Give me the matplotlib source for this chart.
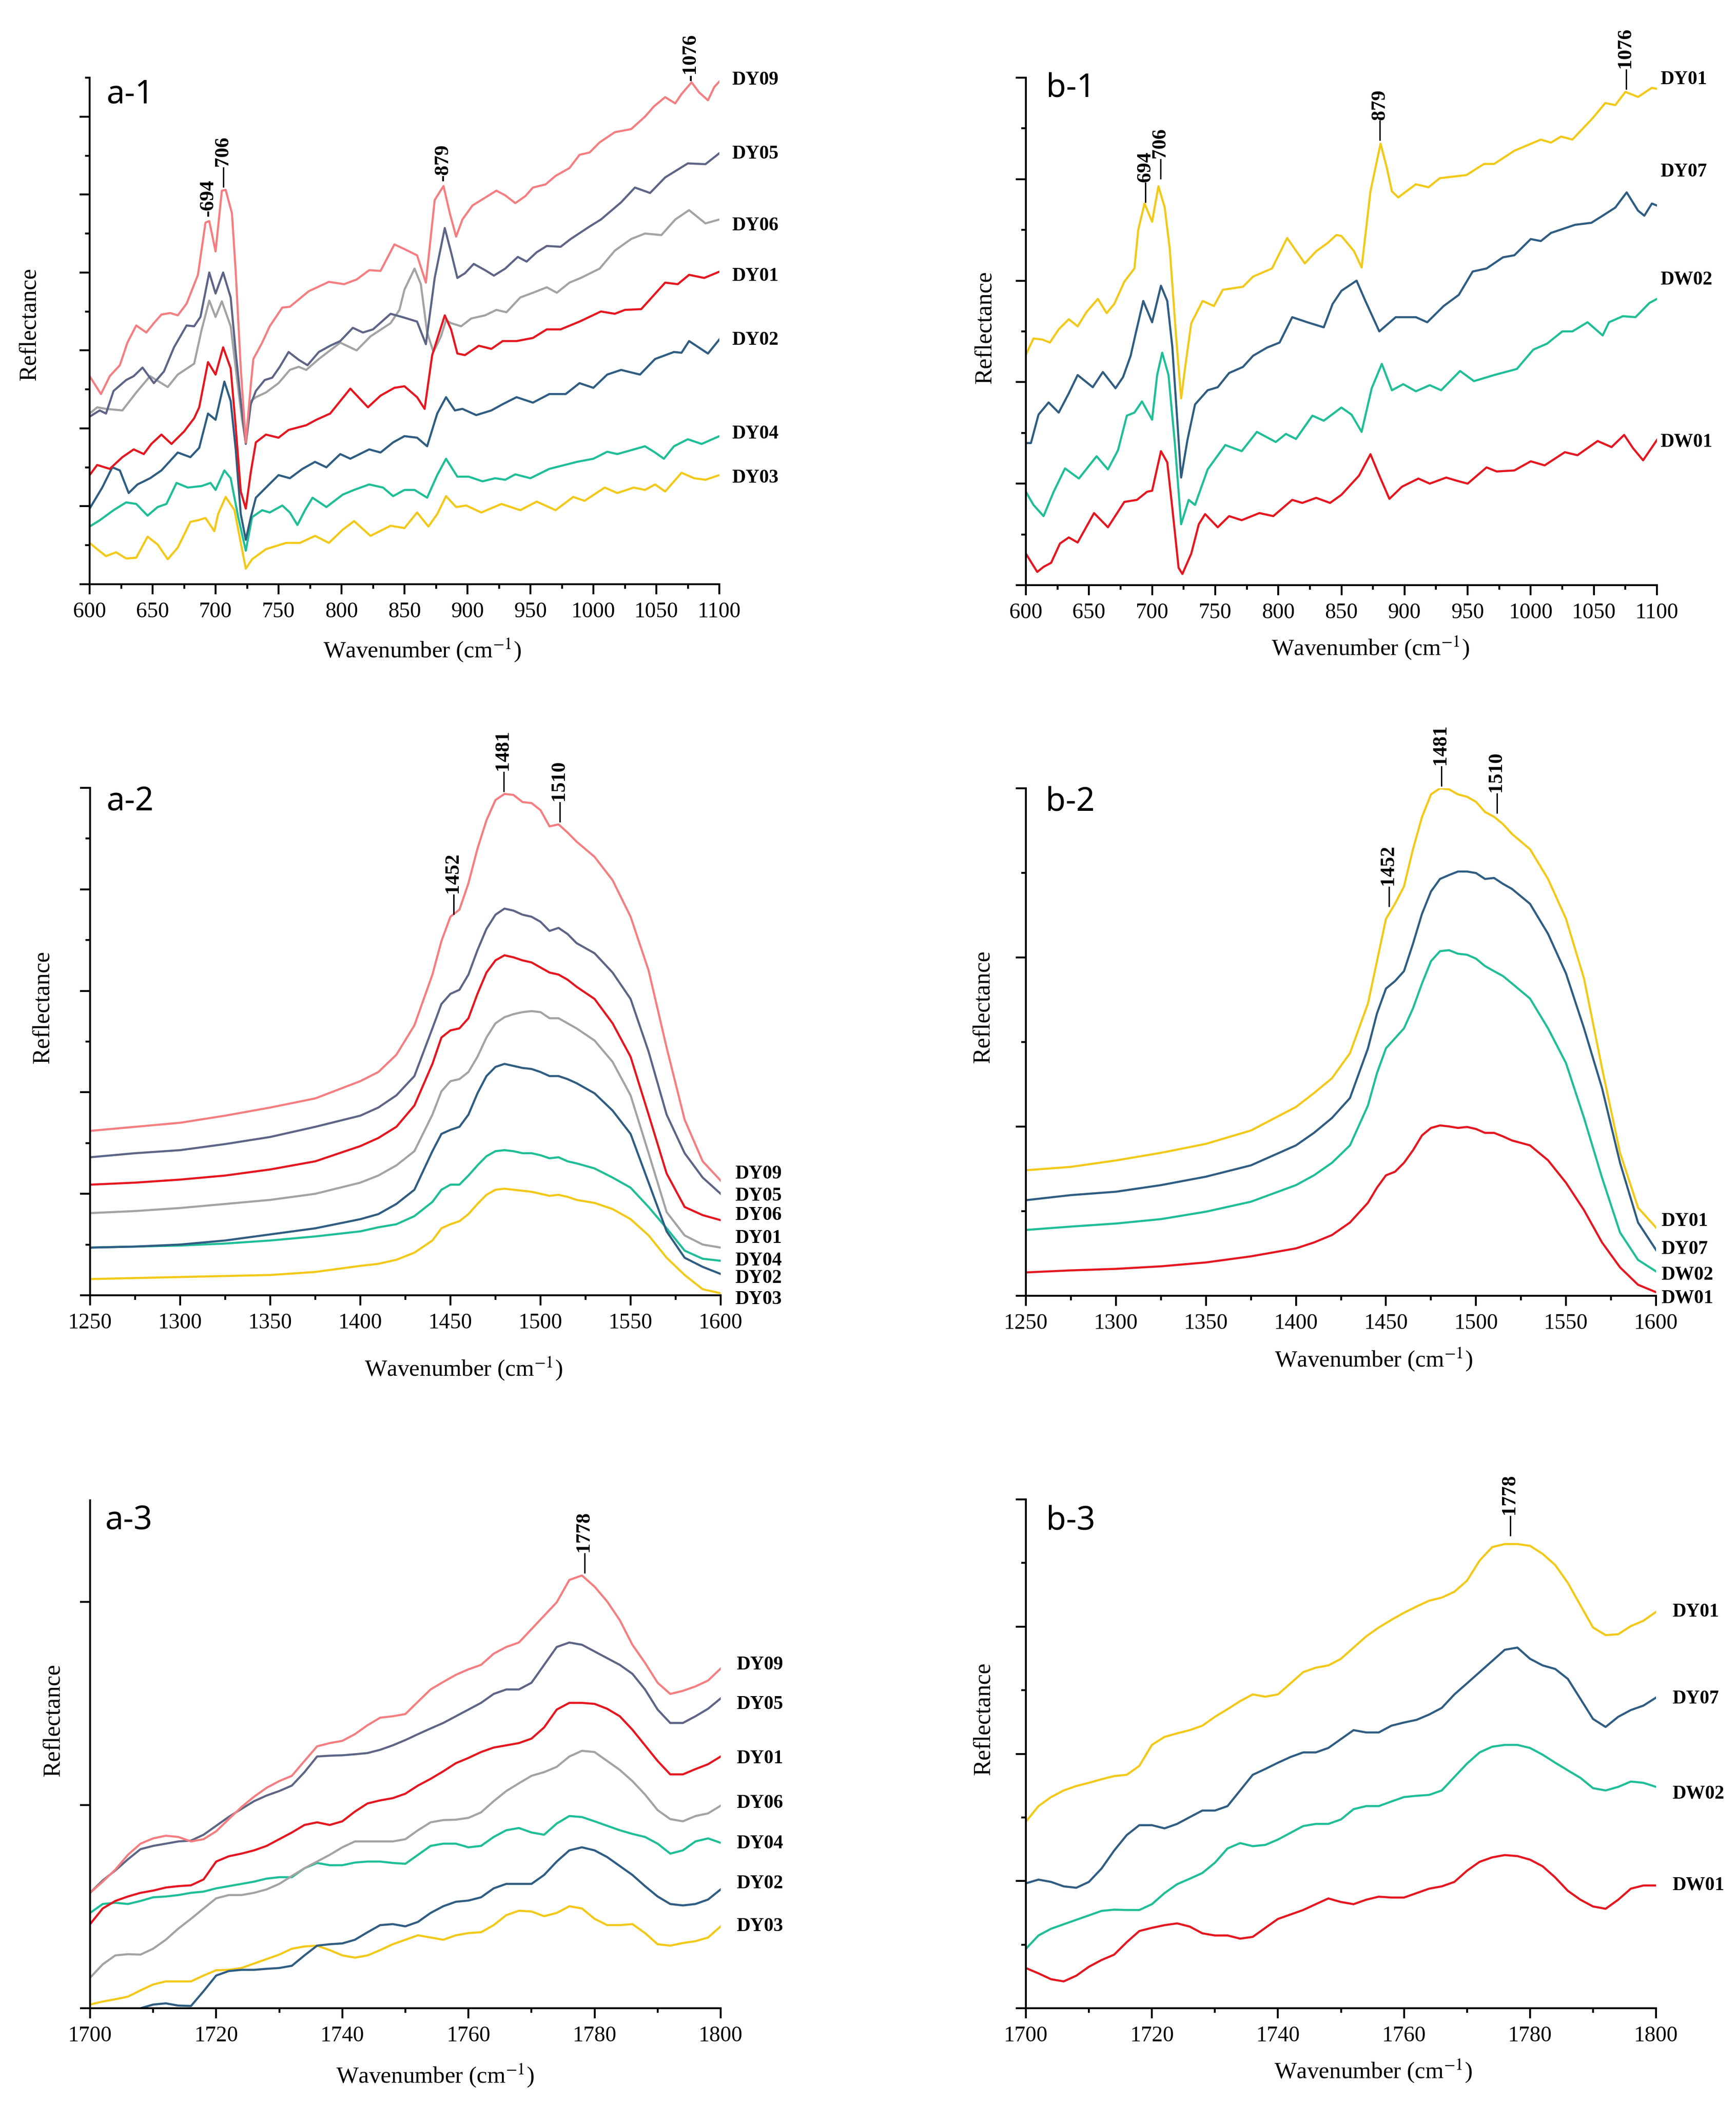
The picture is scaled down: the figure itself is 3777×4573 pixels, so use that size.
import numpy as np
import matplotlib.pyplot as plt
from matplotlib.ticker import MultipleLocator, NullLocator

plt.rcParams['font.family'] = ['Liberation Serif', 'DejaVu Serif']
plt.rcParams['mathtext.fontset'] = 'stix'

# ---------------- panel a-1 (600-1100 cm-1) ----------------
a1_dy09_x = [600, 609, 616, 624, 630, 637, 645, 651, 657, 664, 670, 677, 686, 692, 695, 700, 705, 708, 713, 716,
             720, 724, 728, 730, 737, 743, 753, 759, 774, 790, 802, 812, 822, 831, 842, 850, 860, 867, 874, 881,
             886, 891, 896, 904, 914, 923, 930, 938, 946, 952, 962, 970, 981, 989, 997, 1005, 1017, 1030, 1041, 1048,
             1057, 1065, 1070, 1078, 1084, 1091, 1096, 1100]
a1_dy09_y = [2.67, 2.44, 2.67, 2.81, 3.10, 3.32, 3.23, 3.35, 3.46, 3.48, 3.45, 3.60, 3.97, 4.64, 4.66, 4.27, 5.05, 5.06, 4.76, 4.01,
             2.77, 1.82, 2.56, 2.89, 3.10, 3.31, 3.55, 3.56, 3.76, 3.88, 3.85, 3.91, 4.03, 4.02, 4.36, 4.30, 4.22, 3.87, 4.93, 5.11,
             4.76, 4.46, 4.68, 4.86, 4.96, 5.05, 4.99, 4.89, 4.98, 5.09, 5.13, 5.24, 5.34, 5.51, 5.54, 5.67, 5.80, 5.84, 6.00, 6.13,
             6.25, 6.17, 6.29, 6.44, 6.31, 6.21, 6.38, 6.45]

a1_dy05_x = [600, 608, 613, 619, 629, 635, 642, 651, 659, 667, 677, 683, 688, 695, 700, 706, 712, 716, 720, 724,
             728, 732, 739, 745, 751, 758, 766, 773, 782, 791, 799, 809, 817, 825, 839, 850, 860, 867, 874, 882,
             887, 892, 898, 905, 914, 921, 930, 940, 947, 955, 963, 974, 982, 997, 1006, 1022, 1033, 1045, 1057, 1075,
             1089, 1100]
a1_dy05_y = [2.15, 2.23, 2.19, 2.48, 2.62, 2.67, 2.78, 2.58, 2.73, 3.04, 3.32, 3.31, 3.43, 4.00, 3.73, 4.00, 3.68, 2.98, 2.35, 1.80,
             2.31, 2.48, 2.62, 2.65, 2.79, 2.98, 2.88, 2.81, 2.98, 3.06, 3.12, 3.29, 3.23, 3.27, 3.47, 3.42, 3.37, 3.08, 3.93, 4.57,
             4.26, 3.93, 3.99, 4.11, 4.03, 3.96, 4.05, 4.20, 4.14, 4.26, 4.34, 4.33, 4.43, 4.59, 4.68, 4.90, 5.09, 5.02, 5.22, 5.40,
             5.39, 5.53]

a1_dy06_x = [600, 606, 613, 626, 637, 648, 653, 662, 670, 683, 689, 695, 700, 705, 712, 716, 721, 724, 728, 732,
             740, 750, 759, 766, 772, 782, 799, 812, 823, 839, 846, 850, 858, 863, 868, 873, 879, 883, 887, 895,
             903, 914, 923, 931, 942, 952, 963, 971, 981, 990, 1005, 1017, 1030, 1041, 1054, 1065, 1076, 1089, 1100]
a1_dy06_y = [2.19, 2.27, 2.25, 2.23, 2.46, 2.67, 2.62, 2.53, 2.69, 2.83, 3.27, 3.64, 3.43, 3.63, 3.31, 2.77, 2.11, 1.82, 2.35, 2.40,
             2.46, 2.58, 2.75, 2.79, 2.75, 2.89, 3.10, 3.00, 3.18, 3.35, 3.52, 3.78, 4.05, 3.85, 3.23, 2.98, 3.18, 3.39, 3.35, 3.31,
             3.41, 3.45, 3.52, 3.49, 3.68, 3.74, 3.81, 3.74, 3.87, 3.93, 4.05, 4.28, 4.43, 4.50, 4.48, 4.68, 4.80, 4.63, 4.68]

a1_dy01_x = [600, 606, 616, 626, 635, 643, 649, 657, 665, 675, 683, 687, 694, 700, 706, 712, 716, 720, 724, 728,
             732, 740, 750, 758, 772, 780, 791, 807, 821, 831, 842, 850, 860, 866, 872, 882, 887, 892, 898, 909,
             919, 928, 939, 952, 963, 974, 989, 1006, 1017, 1025, 1038, 1057, 1067, 1076, 1088, 1100]
a1_dy01_y = [1.40, 1.53, 1.48, 1.63, 1.73, 1.67, 1.80, 1.92, 1.80, 1.96, 2.13, 2.27, 2.85, 2.69, 3.04, 2.77, 2.02, 1.19, 0.97, 1.44,
             1.82, 1.92, 1.88, 1.98, 2.04, 2.11, 2.19, 2.51, 2.27, 2.42, 2.52, 2.54, 2.40, 2.25, 2.94, 3.45, 3.27, 2.96, 2.94, 3.06,
             3.02, 3.12, 3.12, 3.16, 3.27, 3.27, 3.37, 3.50, 3.47, 3.52, 3.53, 3.87, 3.85, 3.97, 3.93, 4.01]

a1_dy02_x = [600, 610, 618, 624, 631, 638, 648, 657, 670, 680, 687, 694, 700, 707, 712, 716, 720, 724, 728, 732,
             740, 750, 759, 769, 779, 788, 799, 807, 822, 831, 841, 850, 860, 868, 876, 883, 890, 896, 907, 919,
             928, 939, 952, 965, 978, 989, 1000, 1011, 1022, 1037, 1049, 1064, 1070, 1076, 1091, 1100]
a1_dy02_y = [0.97, 1.24, 1.50, 1.46, 1.17, 1.28, 1.36, 1.46, 1.69, 1.63, 1.75, 2.19, 2.11, 2.60, 2.35, 1.73, 0.90, 0.57, 0.86, 1.11,
             1.24, 1.40, 1.36, 1.48, 1.57, 1.50, 1.67, 1.61, 1.73, 1.69, 1.82, 1.90, 1.88, 1.77, 2.19, 2.40, 2.23, 2.25, 2.17, 2.23,
             2.31, 2.40, 2.33, 2.44, 2.44, 2.58, 2.52, 2.69, 2.75, 2.69, 2.89, 2.98, 2.97, 3.12, 2.96, 3.14]

a1_dy04_x = [600, 608, 619, 629, 637, 646, 654, 661, 669, 678, 689, 696, 700, 707, 712, 718, 724, 729, 737, 743,
             753, 759, 765, 771, 777, 788, 801, 810, 822, 833, 841, 850, 858, 868, 876, 883, 892, 901, 912, 922,
             930, 938, 950, 965, 987, 1000, 1011, 1019, 1041, 1049, 1056, 1064, 1075, 1086, 1100]
a1_dy04_y = [0.74, 0.82, 0.95, 1.05, 1.03, 0.88, 0.99, 1.03, 1.30, 1.24, 1.26, 1.30, 1.21, 1.46, 1.36, 0.86, 0.43, 0.86, 0.95, 0.92,
             1.01, 0.92, 0.76, 0.95, 1.11, 0.99, 1.15, 1.21, 1.28, 1.24, 1.13, 1.21, 1.21, 1.11, 1.40, 1.61, 1.38, 1.38, 1.32, 1.36,
             1.34, 1.41, 1.36, 1.48, 1.57, 1.61, 1.70, 1.67, 1.77, 1.69, 1.61, 1.77, 1.86, 1.80, 1.90]

a1_dy03_x = [600, 606, 613, 621, 629, 637, 646, 654, 662, 670, 680, 686, 692, 699, 702, 708, 715, 720, 724, 729,
             740, 756, 767, 779, 790, 801, 810, 823, 839, 850, 860, 869, 876, 883, 891, 899, 911, 927, 942, 955,
             970, 984, 993, 1009, 1019, 1032, 1041, 1049, 1057, 1070, 1080, 1089, 1100]
a1_dy03_y = [0.53, 0.45, 0.36, 0.41, 0.33, 0.34, 0.61, 0.51, 0.32, 0.47, 0.80, 0.82, 0.85, 0.68, 0.90, 1.12, 0.95, 0.53, 0.20, 0.32,
             0.45, 0.53, 0.53, 0.62, 0.53, 0.70, 0.81, 0.62, 0.75, 0.72, 0.92, 0.74, 0.90, 1.13, 0.99, 1.01, 0.92, 1.03, 0.95, 1.06,
             0.95, 1.12, 1.07, 1.24, 1.17, 1.24, 1.21, 1.28, 1.19, 1.43, 1.36, 1.34, 1.40]

# ---------------- panel b-1 (600-1100 cm-1) ----------------
b1_dy01_x = [600, 606, 613, 619, 626, 634, 641, 648, 657, 664, 670, 678, 686, 689, 694, 700, 705, 710, 714, 719,
             723, 726, 731, 740, 749, 756, 772, 780, 795, 807, 821, 830, 839, 846, 850, 860, 866, 873, 881, 886,
             890, 895, 909, 919, 928, 949, 963, 971, 987, 1008, 1016, 1024, 1033, 1049, 1059, 1067, 1075, 1085, 1096, 1100]
b1_dy01_y = [2.27, 2.43, 2.42, 2.39, 2.52, 2.62, 2.55, 2.69, 2.82, 2.68, 2.77, 2.99, 3.12, 3.50, 3.76, 3.58, 3.93, 3.72, 3.31, 2.45,
             1.84, 2.13, 2.58, 2.80, 2.75, 2.91, 2.94, 3.04, 3.12, 3.42, 3.17, 3.29, 3.37, 3.45, 3.44, 3.29, 3.13, 3.88, 4.35, 4.11,
             3.88, 3.82, 3.95, 3.92, 4.01, 4.04, 4.15, 4.15, 4.28, 4.39, 4.36, 4.42, 4.39, 4.60, 4.75, 4.73, 4.86, 4.81, 4.90, 4.89]

b1_dy07_x = [600, 604, 610, 618, 626, 634, 641, 653, 661, 671, 677, 683, 687, 693, 700, 707, 712, 716, 723, 728,
             734, 744, 752, 761, 772, 780, 791, 801, 811, 823, 836, 843, 850, 862, 869, 880, 893, 909, 918, 931,
             943, 954, 965, 978, 987, 1000, 1008, 1016, 1035, 1048, 1057, 1067, 1076, 1085, 1090, 1096, 1100]
b1_dy07_y = [1.40, 1.40, 1.68, 1.80, 1.70, 1.89, 2.07, 1.95, 2.10, 1.94, 2.05, 2.26, 2.48, 2.80, 2.59, 2.95, 2.80, 2.35, 1.06, 1.43,
             1.78, 1.92, 1.95, 2.09, 2.15, 2.26, 2.34, 2.39, 2.64, 2.59, 2.54, 2.77, 2.90, 3.00, 2.80, 2.50, 2.64, 2.64, 2.59, 2.75,
             2.86, 3.09, 3.12, 3.23, 3.25, 3.41, 3.39, 3.47, 3.55, 3.57, 3.64, 3.72, 3.87, 3.69, 3.64, 3.76, 3.74]

b1_dw02_x = [600, 606, 614, 622, 631, 642, 656, 665, 673, 680, 686, 692, 700, 704, 708, 713, 718, 723, 729, 734,
             744, 758, 771, 783, 798, 806, 814, 827, 836, 850, 858, 866, 874, 882, 890, 899, 909, 920, 929, 944,
             955, 971, 989, 1002, 1013, 1025, 1033, 1045, 1057, 1062, 1073, 1083, 1094, 1100]
b1_dw02_y = [0.92, 0.79, 0.68, 0.92, 1.15, 1.05, 1.27, 1.14, 1.33, 1.67, 1.70, 1.81, 1.63, 2.07, 2.29, 2.07, 1.40, 0.60, 0.84, 0.79,
             1.14, 1.38, 1.32, 1.51, 1.41, 1.49, 1.44, 1.67, 1.62, 1.75, 1.68, 1.51, 1.94, 2.18, 1.92, 1.98, 1.91, 1.97, 1.92, 2.11,
             2.01, 2.07, 2.13, 2.32, 2.38, 2.50, 2.50, 2.59, 2.46, 2.59, 2.65, 2.64, 2.78, 2.82]

b1_dw01_x = [600, 603, 609, 614, 620, 627, 634, 641, 654, 665, 678, 688, 696, 700, 707, 712, 716, 721, 724, 731,
             737, 742, 752, 761, 771, 785, 796, 811, 819, 830, 841, 850, 864, 873, 880, 888, 898, 911, 920, 933,
             941, 950, 965, 973, 987, 1000, 1011, 1027, 1037, 1053, 1064, 1074, 1081, 1089, 1100]
b1_dw01_y = [0.31, 0.25, 0.13, 0.18, 0.22, 0.41, 0.47, 0.42, 0.71, 0.57, 0.82, 0.84, 0.92, 0.93, 1.32, 1.21, 0.76, 0.17, 0.11, 0.31,
             0.60, 0.70, 0.57, 0.68, 0.64, 0.71, 0.68, 0.84, 0.81, 0.86, 0.81, 0.89, 1.08, 1.29, 1.08, 0.85, 0.97, 1.05, 1.00, 1.06,
             1.03, 1.00, 1.16, 1.12, 1.13, 1.22, 1.18, 1.31, 1.28, 1.42, 1.36, 1.48, 1.35, 1.23, 1.43]

# ---------------- panels a-2 / b-2 (1250-1600 cm-1) ----------------
wn2 = [1250, 1275, 1300, 1325, 1350, 1375, 1400, 1410, 1420, 1430, 1440, 1445, 1450, 1455, 1460, 1465, 1470, 1475,
       1480, 1485, 1490, 1495, 1500, 1505, 1510, 1515, 1520, 1530, 1540, 1550, 1560, 1570, 1580, 1590, 1600]

a2_dy09 = [1.62, 1.66, 1.70, 1.77, 1.85, 1.94, 2.11, 2.20, 2.37, 2.66, 3.16, 3.49, 3.73, 3.80, 4.06, 4.40, 4.68, 4.88,
           4.94, 4.93, 4.86, 4.85, 4.78, 4.62, 4.64, 4.56, 4.47, 4.32, 4.09, 3.73, 3.20, 2.44, 1.73, 1.32, 1.13]
a2_dy05 = [1.36, 1.40, 1.43, 1.49, 1.56, 1.66, 1.77, 1.85, 1.97, 2.16, 2.63, 2.87, 2.97, 3.01, 3.16, 3.40, 3.61, 3.75,
           3.81, 3.79, 3.75, 3.73, 3.68, 3.59, 3.62, 3.56, 3.47, 3.37, 3.18, 2.92, 2.40, 1.78, 1.40, 1.16, 1.00]
a2_dy01 = [1.09, 1.11, 1.14, 1.18, 1.24, 1.32, 1.47, 1.55, 1.66, 1.87, 2.28, 2.54, 2.61, 2.63, 2.73, 2.97, 3.18, 3.30,
           3.35, 3.33, 3.30, 3.28, 3.23, 3.18, 3.16, 3.11, 3.04, 2.92, 2.68, 2.35, 1.78, 1.20, 0.87, 0.79, 0.74]
a2_dy06 = [0.81, 0.83, 0.86, 0.90, 0.94, 1.00, 1.11, 1.18, 1.28, 1.42, 1.78, 2.01, 2.11, 2.13, 2.20, 2.35, 2.54, 2.68,
           2.74, 2.77, 2.79, 2.80, 2.79, 2.73, 2.73, 2.68, 2.63, 2.51, 2.30, 1.97, 1.40, 0.82, 0.59, 0.50, 0.47]
a2_dy02 = [0.47, 0.48, 0.50, 0.54, 0.60, 0.66, 0.75, 0.80, 0.90, 1.04, 1.42, 1.59, 1.63, 1.66, 1.78, 1.99, 2.16, 2.25,
           2.28, 2.26, 2.24, 2.23, 2.20, 2.16, 2.16, 2.13, 2.09, 1.99, 1.82, 1.59, 1.11, 0.63, 0.37, 0.28, 0.21]
a2_dy04 = [0.47, 0.48, 0.49, 0.51, 0.54, 0.58, 0.63, 0.67, 0.70, 0.78, 0.92, 1.04, 1.09, 1.09, 1.18, 1.28, 1.37, 1.42,
           1.43, 1.42, 1.40, 1.40, 1.38, 1.35, 1.36, 1.32, 1.30, 1.25, 1.16, 1.06, 0.87, 0.66, 0.44, 0.36, 0.34]
a2_dy03 = [0.16, 0.17, 0.18, 0.19, 0.20, 0.23, 0.29, 0.31, 0.35, 0.42, 0.54, 0.66, 0.70, 0.73, 0.80, 0.90, 0.99, 1.04,
           1.05, 1.04, 1.03, 1.02, 1.00, 0.98, 0.99, 0.97, 0.94, 0.91, 0.85, 0.75, 0.59, 0.37, 0.20, 0.06, 0.02]

b2_dy01 = [0.742, 0.762, 0.80, 0.845, 0.898, 0.977, 1.116, 1.198, 1.286, 1.434, 1.728, 1.978, 2.228, 2.317, 2.42, 2.64, 2.83, 2.964,
           3.0, 2.994, 2.964, 2.95, 2.92, 2.86, 2.832, 2.788, 2.73, 2.64, 2.464, 2.228, 1.875, 1.345, 0.845, 0.521, 0.403]
b2_dy07 = [0.565, 0.595, 0.615, 0.654, 0.704, 0.771, 0.889, 0.963, 1.051, 1.169, 1.463, 1.669, 1.816, 1.86, 1.919, 2.081, 2.258, 2.39,
           2.464, 2.487, 2.508, 2.508, 2.499, 2.464, 2.47, 2.435, 2.405, 2.317, 2.14, 1.905, 1.581, 1.228, 0.786, 0.433, 0.271]
b2_dw02 = [0.389, 0.409, 0.427, 0.453, 0.497, 0.556, 0.654, 0.712, 0.786, 0.889, 1.125, 1.316, 1.463, 1.522, 1.581, 1.699, 1.846, 1.978,
           2.037, 2.043, 2.022, 2.016, 1.993, 1.949, 1.919, 1.89, 1.846, 1.757, 1.581, 1.375, 1.051, 0.698, 0.374, 0.212, 0.144]
b2_dw01 = [0.138, 0.15, 0.159, 0.174, 0.197, 0.233, 0.28, 0.315, 0.359, 0.433, 0.55, 0.639, 0.712, 0.733, 0.786, 0.86, 0.948, 0.992,
           1.007, 1.001, 0.992, 0.998, 0.986, 0.963, 0.963, 0.942, 0.918, 0.889, 0.801, 0.668, 0.506, 0.315, 0.168, 0.065, 0.021]

# ---------------- panels a-3 / b-3 (1700-1800 cm-1, every 2 cm-1) ----------------
wn3 = np.arange(1700, 1801, 2)

a3_dy09 = [0.568, 0.623, 0.682, 0.755, 0.81, 0.836, 0.849, 0.843, 0.821, 0.832, 0.871, 0.931, 0.99, 1.041, 1.085, 1.118, 1.144,
           1.217, 1.289, 1.305, 1.316, 1.349, 1.393, 1.43, 1.437, 1.448, 1.509, 1.569, 1.606, 1.641, 1.668, 1.69, 1.745, 1.778,
           1.8, 1.866, 1.932, 1.998, 2.108, 2.13, 2.075, 2.002, 1.91, 1.789, 1.7, 1.602, 1.547, 1.562, 1.584, 1.613, 1.672]
a3_dy05 = [0.568, 0.629, 0.678, 0.733, 0.783, 0.799, 0.81, 0.821, 0.825, 0.854, 0.898, 0.942, 0.981, 1.019, 1.047, 1.069, 1.096,
           1.162, 1.239, 1.243, 1.245, 1.25, 1.256, 1.272, 1.294, 1.32, 1.349, 1.377, 1.404, 1.437, 1.47, 1.503, 1.547, 1.569,
           1.569, 1.602, 1.69, 1.778, 1.8, 1.789, 1.756, 1.723, 1.69, 1.646, 1.569, 1.47, 1.404, 1.404, 1.437, 1.474, 1.525]
a3_dy01 = [0.414, 0.491, 0.528, 0.55, 0.568, 0.579, 0.594, 0.601, 0.605, 0.634, 0.722, 0.748, 0.761, 0.777, 0.799, 0.832, 0.865,
           0.902, 0.915, 0.902, 0.92, 0.968, 1.008, 1.023, 1.034, 1.056, 1.096, 1.129, 1.166, 1.206, 1.232, 1.261, 1.283, 1.294,
           1.305, 1.327, 1.382, 1.47, 1.503, 1.503, 1.498, 1.474, 1.437, 1.371, 1.294, 1.217, 1.151, 1.151, 1.177, 1.201, 1.239]
a3_dy06 = [0.15, 0.216, 0.26, 0.266, 0.264, 0.293, 0.337, 0.392, 0.44, 0.491, 0.541, 0.557, 0.557, 0.568, 0.585, 0.612, 0.651,
           0.689, 0.722, 0.755, 0.792, 0.821, 0.821, 0.821, 0.821, 0.832, 0.876, 0.915, 0.926, 0.928, 0.937, 0.964, 1.019, 1.069,
           1.107, 1.144, 1.162, 1.188, 1.239, 1.267, 1.261, 1.217, 1.173, 1.118, 1.052, 0.975, 0.931, 0.92, 0.946, 0.959, 0.997]
a3_dy04 = [0.469, 0.513, 0.519, 0.513, 0.528, 0.546, 0.55, 0.557, 0.568, 0.574, 0.59, 0.601, 0.612, 0.623, 0.638, 0.645, 0.645,
           0.689, 0.715, 0.704, 0.704, 0.717, 0.722, 0.722, 0.715, 0.711, 0.755, 0.799, 0.81, 0.81, 0.792, 0.799, 0.843, 0.876,
           0.887, 0.865, 0.854, 0.909, 0.946, 0.941, 0.92, 0.898, 0.876, 0.858, 0.843, 0.81, 0.761, 0.777, 0.821, 0.836, 0.814]
a3_dy02 = [-0.20, -0.14, -0.08, -0.04, 0.0, 0.018, 0.024, 0.013, 0.011, 0.084, 0.161, 0.183, 0.189, 0.189, 0.194, 0.198, 0.209,
           0.26, 0.308, 0.315, 0.319, 0.337, 0.374, 0.409, 0.414, 0.403, 0.425, 0.469, 0.502, 0.524, 0.53, 0.546, 0.59, 0.612,
           0.612, 0.612, 0.656, 0.722, 0.777, 0.792, 0.777, 0.744, 0.70, 0.656, 0.601, 0.55, 0.513, 0.506, 0.513, 0.535, 0.585]
a3_dy03 = [0.018, 0.033, 0.044, 0.057, 0.088, 0.117, 0.132, 0.132, 0.132, 0.161, 0.187, 0.189, 0.198, 0.22, 0.242, 0.264, 0.293,
           0.304, 0.308, 0.286, 0.26, 0.249, 0.26, 0.286, 0.315, 0.337, 0.359, 0.348, 0.337, 0.359, 0.37, 0.374, 0.409, 0.458,
           0.48, 0.476, 0.453, 0.469, 0.502, 0.491, 0.44, 0.409, 0.409, 0.414, 0.37, 0.315, 0.308, 0.321, 0.33, 0.348, 0.403]

b3_dy01 = [1.467, 1.589, 1.66, 1.712, 1.747, 1.772, 1.80, 1.825, 1.835, 1.905, 2.07, 2.133, 2.161, 2.186, 2.221, 2.291, 2.351,
           2.414, 2.467, 2.449, 2.467, 2.554, 2.642, 2.677, 2.695, 2.747, 2.835, 2.923, 2.993, 3.053, 3.109, 3.158, 3.204, 3.228,
           3.274, 3.361, 3.519, 3.625, 3.649, 3.649, 3.635, 3.572, 3.484, 3.344, 3.168, 2.993, 2.933, 2.94, 3.004, 3.046, 3.116]
b3_dy07 = [0.982, 1.011, 0.993, 0.958, 0.947, 0.993, 1.098, 1.239, 1.361, 1.439, 1.439, 1.414, 1.449, 1.502, 1.554, 1.554, 1.589,
           1.712, 1.835, 1.881, 1.93, 1.975, 2.011, 2.011, 2.046, 2.116, 2.186, 2.168, 2.168, 2.221, 2.246, 2.267, 2.309, 2.361,
           2.467, 2.554, 2.642, 2.73, 2.818, 2.835, 2.747, 2.695, 2.667, 2.589, 2.432, 2.274, 2.211, 2.291, 2.344, 2.379, 2.442]
b3_dw02 = [0.467, 0.572, 0.625, 0.66, 0.695, 0.73, 0.765, 0.775, 0.772, 0.772, 0.818, 0.905, 0.975, 1.018, 1.063, 1.144, 1.256,
           1.298, 1.274, 1.284, 1.326, 1.379, 1.432, 1.449, 1.449, 1.484, 1.565, 1.589, 1.589, 1.625, 1.66, 1.67, 1.677, 1.712,
           1.818, 1.923, 2.011, 2.056, 2.07, 2.07, 2.046, 1.993, 1.93, 1.87, 1.811, 1.73, 1.712, 1.74, 1.782, 1.772, 1.74]
b3_dw01 = [0.316, 0.274, 0.228, 0.211, 0.256, 0.326, 0.379, 0.421, 0.519, 0.607, 0.632, 0.653, 0.667, 0.642, 0.589, 0.572, 0.572,
           0.547, 0.561, 0.632, 0.702, 0.737, 0.772, 0.818, 0.863, 0.835, 0.818, 0.853, 0.877, 0.87, 0.87, 0.905, 0.94, 0.958,
           0.993, 1.081, 1.151, 1.186, 1.204, 1.196, 1.168, 1.116, 1.028, 0.923, 0.853, 0.80, 0.782, 0.853, 0.94, 0.965, 0.965]

# band positions marked on the panels: (text, wavenumber, height)
a1_marks = [('-694', 694, 4.72), ('\u2014706', 706.5, 5.09), ('-879', 880.5, 5.17), ('-1076', 1077, 6.46)]
b1_marks = [('\u2014694', 695, 3.77), ('\u2014706', 707, 4.00), ('\u2014879', 881, 4.38), ('\u20141076', 1076, 4.88)]
a2_marks = [('\u20141452', 1452, 3.75), ('\u20141481', 1480, 4.96), ('\u20141510', 1511, 4.66)]
b2_marks = [('\u20141452', 1452, 2.30), ('\u20141481', 1481, 3.01), ('\u20141510', 1512, 2.85)]
a3_marks = [('\u20141778', 1778.5, 2.14)]
b3_marks = [('\u20141778', 1777, 3.71)]

C_DY09 = '#F47E81'
C_DY05 = '#5D6586'
C_DY06 = '#A3A3A3'
C_RED = '#E5161F'
C_BLUE = '#2F5D82'
C_TEAL = '#1FBE97'
C_YEL = '#F2C919'

fig = plt.figure(figsize=(3777 / 300, 4573 / 300), dpi=300)


def style(ax, xlim, xmaj, xmin, ylim, ymin):
    ax.set_xlim(*xlim)
    ax.set_ylim(*ylim)
    ax.spines['top'].set_visible(False)
    ax.spines['right'].set_visible(False)
    for s in ('left', 'bottom'):
        ax.spines[s].set_linewidth(1.0)
    ax.xaxis.set_major_locator(MultipleLocator(xmaj))
    ax.xaxis.set_minor_locator(MultipleLocator(xmin))
    ax.yaxis.set_major_locator(MultipleLocator(1))
    if ymin:
        ax.yaxis.set_minor_locator(MultipleLocator(ymin))
    else:
        ax.yaxis.set_minor_locator(NullLocator())
    ax.tick_params(which='major', direction='out', length=5.2, width=1.0, labelsize=11.5, pad=4)
    ax.tick_params(which='minor', direction='out', length=2.4, width=1.0)
    ax.tick_params(axis='y', labelleft=False)


def decorate(ax, tag, tag_x, tag_y, xl, yl, names, name_x, marks):
    ax.text(tag_x, tag_y, tag, transform=ax.transAxes, ha='left', va='baseline',
            fontsize=17, family='Noto Sans')
    ax.text(xl[0], xl[1], 'Wavenumber (cm$^{-1}$)', transform=ax.transAxes,
            ha='center', va='center', fontsize=12.3)
    ax.text(yl[0], yl[1], 'Reflectance', transform=ax.transAxes, rotation=90,
            ha='center', va='center', fontsize=12.5)
    for name, yv in names:
        ax.text(name_x, yv, name, transform=ax.get_yaxis_transform(), ha='left', va='center',
                fontsize=10, fontweight='bold', clip_on=False)
    for txt, xv, yv in marks:
        ax.text(xv, yv, txt, rotation=90, ha='center', va='bottom',
                fontsize=10.5, fontweight='bold', clip_on=False)


lw = 1.1

# a-1
ax = fig.add_axes([0.05163, 0.72207, 0.36272, 0.24098])
for xs, ys, c in [(a1_dy03_x, a1_dy03_y, C_YEL), (a1_dy04_x, a1_dy04_y, C_TEAL), (a1_dy02_x, a1_dy02_y, C_BLUE),
                  (a1_dy06_x, a1_dy06_y, C_DY06), (a1_dy05_x, a1_dy05_y, C_DY05), (a1_dy01_x, a1_dy01_y, C_RED),
                  (a1_dy09_x, a1_dy09_y, C_DY09)]:
    ax.plot(xs, ys, color=c, lw=lw, solid_joinstyle='round')
style(ax, (600, 1100), 50, 25, (0, 6.5), 0.5)
decorate(ax, 'a-1', 0.027, 0.950, (0.528, -0.131), (-0.096, 0.513),
         [('DY09', 6.47), ('DY05', 5.52), ('DY06', 4.60), ('DY01', 3.95), ('DY02', 3.13), ('DY04', 1.93), ('DY03', 1.36)],
         1.020, a1_marks)

# b-1
ax = fig.add_axes([0.59095, 0.72163, 0.36352, 0.24142])
for xs, ys, c in [(b1_dw01_x, b1_dw01_y, C_RED), (b1_dw02_x, b1_dw02_y, C_TEAL), (b1_dy07_x, b1_dy07_y, C_BLUE),
                  (b1_dy01_x, b1_dy01_y, C_YEL)]:
    ax.plot(xs, ys, color=c, lw=lw, solid_joinstyle='round')
style(ax, (600, 1100), 50, 25, (0, 5), 0.5)
decorate(ax, 'b-1', 0.032, 0.962, (0.546, -0.124), (-0.065, 0.508),
         [('DY01', 4.98), ('DY07', 4.07), ('DW02', 3.01), ('DW01', 1.41)], 1.005, b1_marks)

# a-2
ax = fig.add_axes([0.05189, 0.38378, 0.36325, 0.24142])
for ys, c in [(a2_dy03, C_YEL), (a2_dy04, C_TEAL), (a2_dy02, C_BLUE), (a2_dy06, C_DY06),
              (a2_dy01, C_RED), (a2_dy05, C_DY05), (a2_dy09, C_DY09)]:
    ax.plot(wn2, ys, color=c, lw=lw, solid_joinstyle='round')
style(ax, (1250, 1600), 50, 25, (0, 5), 0.5)
decorate(ax, 'a-2', 0.026, 0.956, (0.592, -0.145), (-0.075, 0.568),
         [('DY09', 1.195), ('DY05', 0.976), ('DY06', 0.786), ('DY01', 0.562), ('DY04', 0.338), ('DY02', 0.167),
          ('DY03', -0.043)], 1.023, a2_marks)

# b-2
ax = fig.add_axes([0.59095, 0.38356, 0.36299, 0.24142])
for ys, c in [(b2_dw01, C_RED), (b2_dw02, C_TEAL), (b2_dy07, C_BLUE), (b2_dy01, C_YEL)]:
    ax.plot(wn2, ys, color=c, lw=lw, solid_joinstyle='round')
style(ax, (1250, 1600), 50, 25, (0, 3), 0.5)
decorate(ax, 'b-2', 0.031, 0.956, (0.552, -0.126), (-0.068, 0.570),
         [('DY01', 0.439), ('DY07', 0.274), ('DW02', 0.124), ('DW01', -0.015)], 1.008, b2_marks)

# a-3
ax = fig.add_axes([0.05189, 0.04461, 0.36325, 0.24164])
for ys, c in [(a3_dy03, C_YEL), (a3_dy02, C_BLUE), (a3_dy04, C_TEAL), (a3_dy06, C_DY06),
              (a3_dy01, C_RED), (a3_dy05, C_DY05), (a3_dy09, C_DY09)]:
    ax.plot(wn3, ys, color=c, lw=lw, solid_joinstyle='round')
style(ax, (1700, 1800), 20, 10, (0, 2.5), None)
decorate(ax, 'a-3', 0.024, 0.943, (0.547, -0.133), (-0.058, 0.567),
         [('DY09', 1.69), ('DY05', 1.496), ('DY01', 1.228), ('DY06', 1.008), ('DY04', 0.81), ('DY02', 0.612),
          ('DY03', 0.403)], 1.025, a3_marks)

# b-3
ax = fig.add_axes([0.59095, 0.04461, 0.36299, 0.24207])
for ys, c in [(b3_dw01, C_RED), (b3_dw02, C_TEAL), (b3_dy07, C_BLUE), (b3_dy01, C_YEL)]:
    ax.plot(wn3, ys, color=c, lw=lw, solid_joinstyle='round')
style(ax, (1700, 1800), 20, 10, (0, 4), 0.5)
decorate(ax, 'b-3', 0.032, 0.941, (0.551, -0.124), (-0.067, 0.569),
         [('DY01', 3.116), ('DY07', 2.432), ('DW02', 1.684), ('DW01', 0.965)], 1.026, b3_marks)

fig.savefig('out.png', dpi=300)
